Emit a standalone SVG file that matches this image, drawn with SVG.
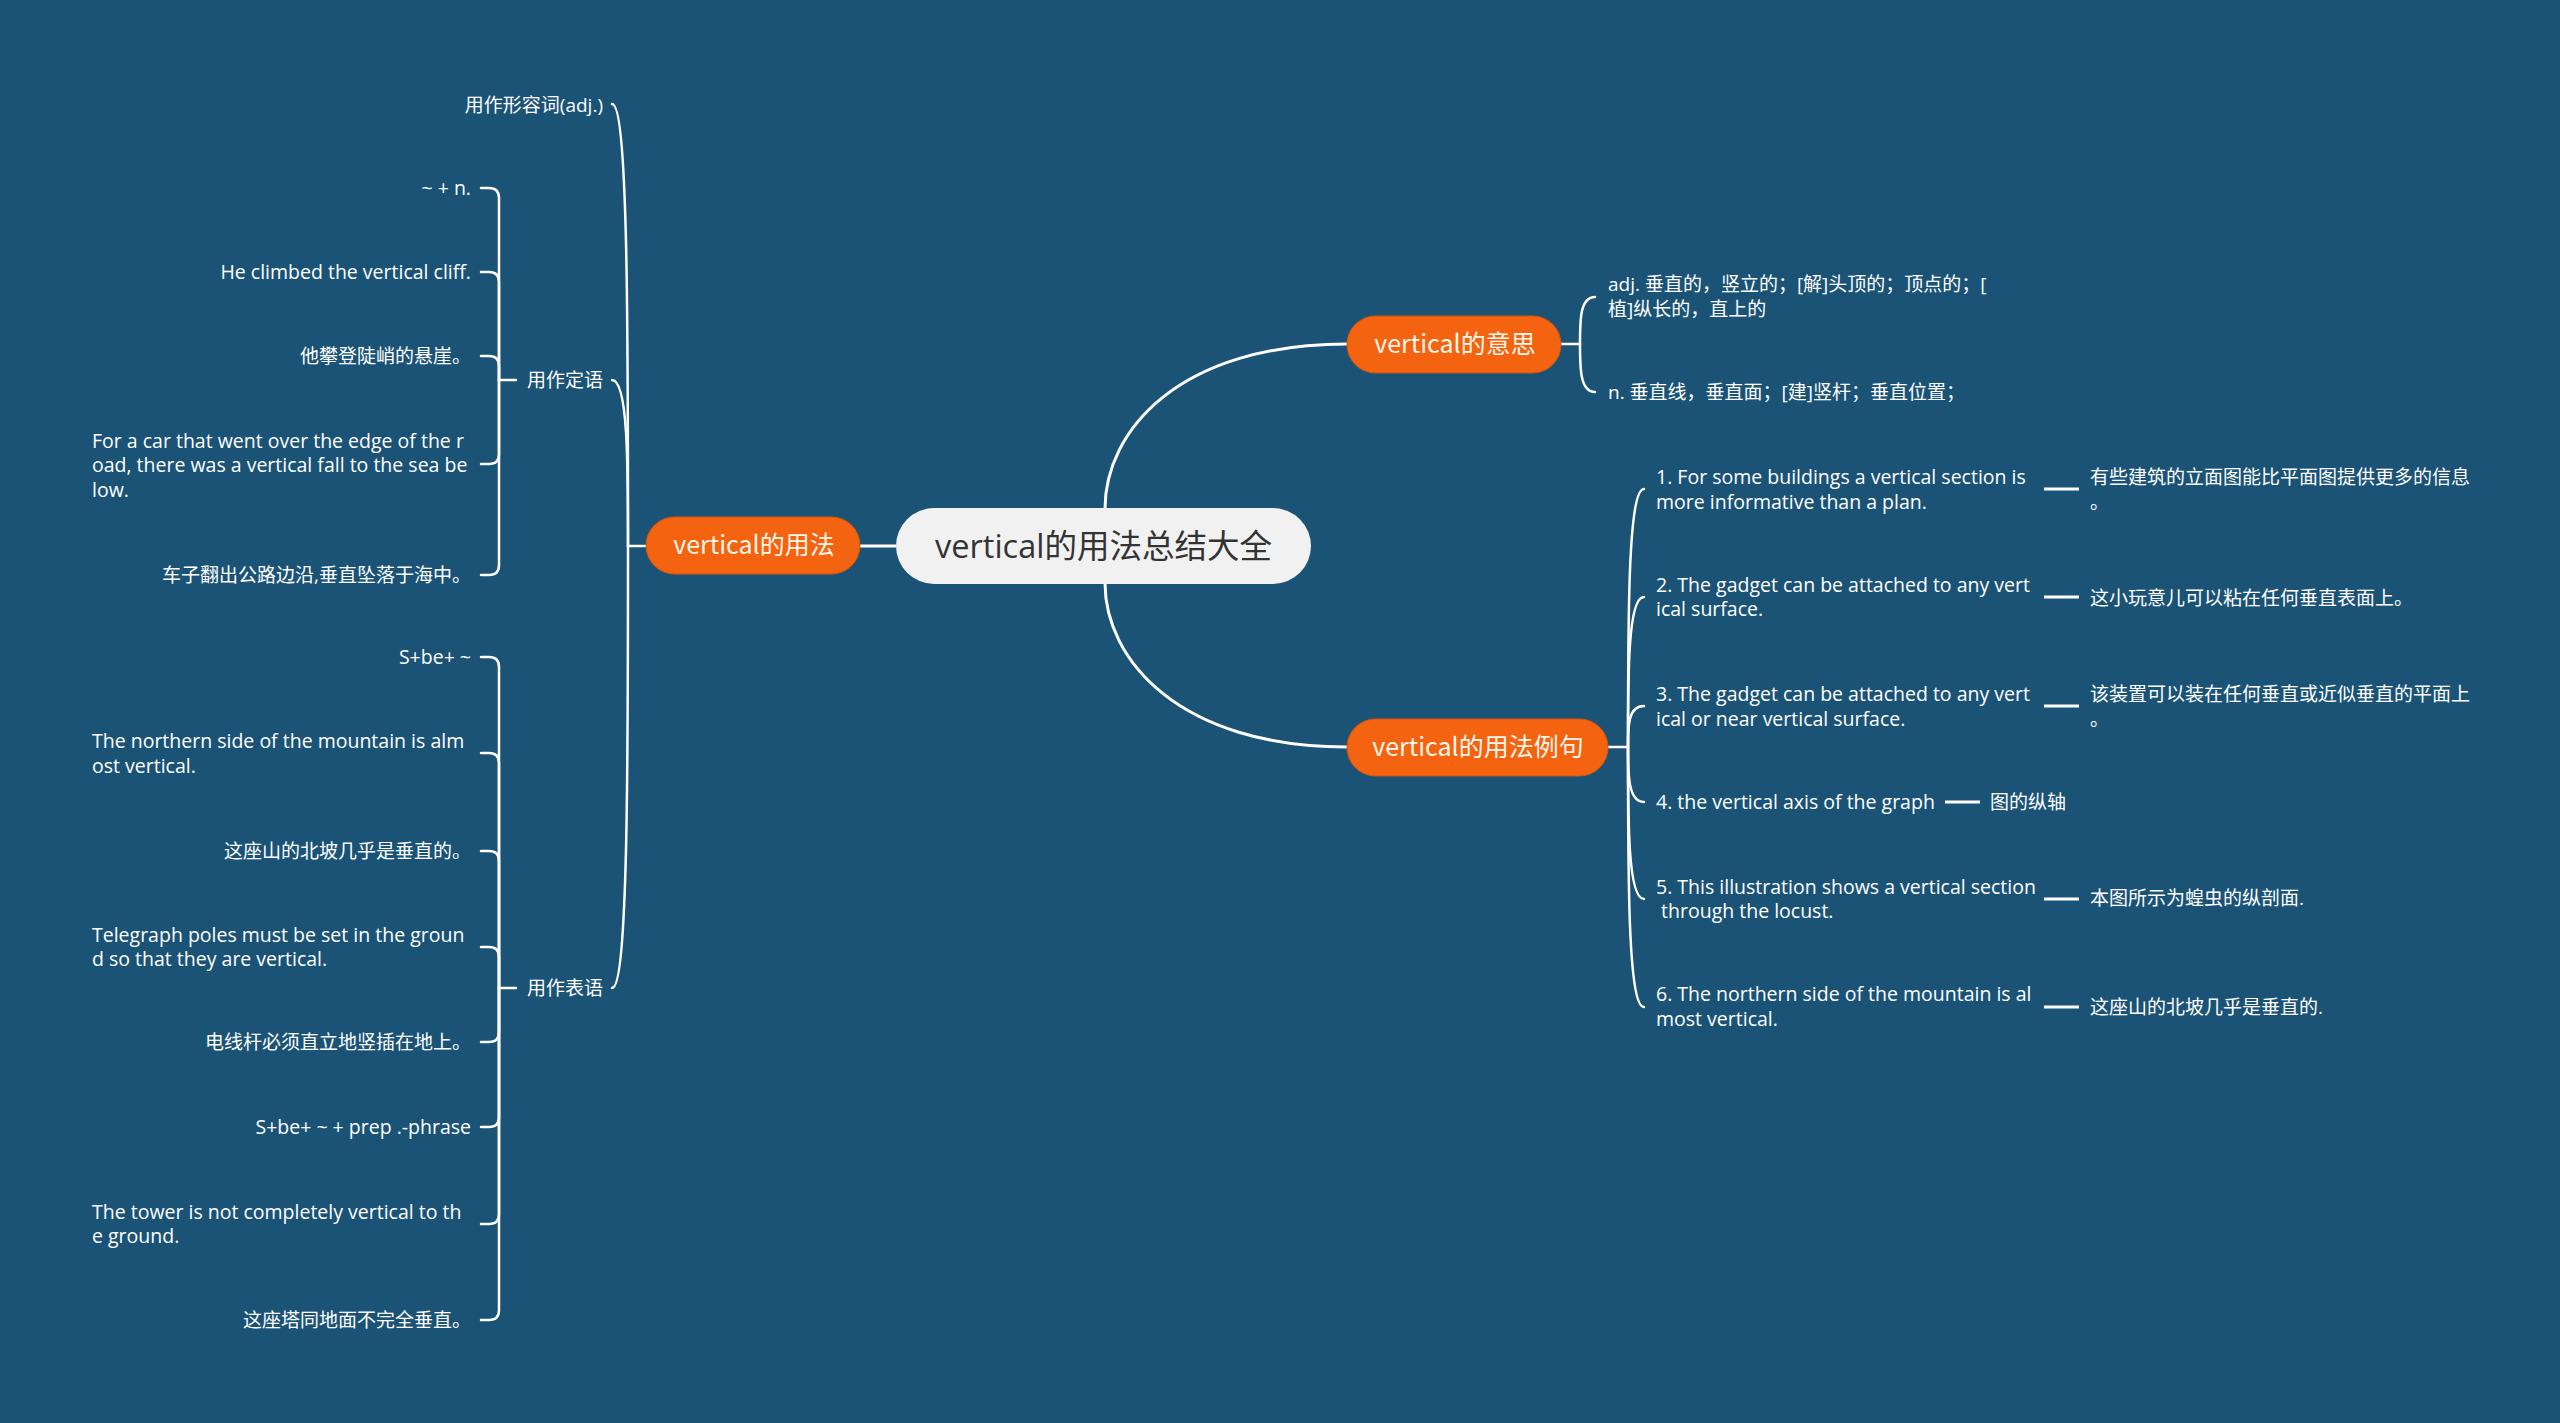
<svg xmlns="http://www.w3.org/2000/svg" width="2560" height="1423" viewBox="0 0 2560 1423">
<style>
.bg{fill:#1a5376}
.ln{fill:none;stroke:#ffffff;stroke-width:2.5;stroke-linecap:round}
.main{fill:none;stroke:#ffffff;stroke-width:3}
.orange{fill:#f4630f;stroke:#d9540a;stroke-width:1}
.root{fill:#f1f1f1}
.rt{font-family:"Open Sans","Noto Sans CJK SC",sans-serif;font-size:32.5px;fill:#333333;text-anchor:middle}
.ot{font-family:"Noto Sans CJK SC",sans-serif;font-size:25px;fill:#fff6ea;text-anchor:middle}
.en{font-family:"Open Sans","Noto Sans CJK SC",sans-serif;font-size:19.5px;fill:#ffffff}
.zh{font-family:"Open Sans","Noto Sans CJK SC",sans-serif;font-size:19px;fill:#ffffff}
.end{text-anchor:end}
</style>
<rect class="bg" x="0" y="0" width="2560" height="1423"/>
<g id="connectors">
  <path class="main" d="M860 546 H896"/>
  <path class="main" d="M1105 509 C1105 430 1180 344 1347 344"/>
  <path class="main" d="M1105 583 C1105 660 1180 747 1347 747"/>
  <path class="ln" d="M646 546 H628"/>
  <path class="ln" d="M628 546 C628 325 628 104 612 104"/>
  <path class="ln" d="M628 546 C628 463 628 380 612 380"/>
  <path class="ln" d="M628 546 C628 767 628 988 612 988"/>
  <path class="ln" d="M516 380 H499"/>
  <path class="ln" d="M499 380 V198 Q499 188 489 188 H481"/>
  <path class="ln" d="M499 380 V282 Q499 272 489 272 H481"/>
  <path class="ln" d="M499 380 V366 Q499 356 489 356 H481"/>
  <path class="ln" d="M499 380 V454 Q499 464 489 464 H481"/>
  <path class="ln" d="M499 380 V565 Q499 575 489 575 H481"/>
  <path class="ln" d="M516 988 H499"/>
  <path class="ln" d="M499 988 V667 Q499 657 489 657 H481"/>
  <path class="ln" d="M499 988 V763 Q499 753 489 753 H481"/>
  <path class="ln" d="M499 988 V861 Q499 851 489 851 H481"/>
  <path class="ln" d="M499 988 V957 Q499 947 489 947 H481"/>
  <path class="ln" d="M499 988 V1032 Q499 1042 489 1042 H481"/>
  <path class="ln" d="M499 988 V1117 Q499 1127 489 1127 H481"/>
  <path class="ln" d="M499 988 V1214 Q499 1224 489 1224 H481"/>
  <path class="ln" d="M499 988 V1310 Q499 1320 489 1320 H481"/>
  <path class="ln" d="M1561 344 H1580"/>
  <path class="ln" d="M1580 344 C1580 320 1580 297 1595 297"/>
  <path class="ln" d="M1580 344 C1580 368 1580 392 1595 392"/>
  <path class="ln" d="M1608 747 H1628"/>
  <path class="ln" d="M1628 747 C1628 618 1628 489 1644 489"/>
  <path class="ln" d="M1628 747 C1628 672 1628 597 1644 597"/>
  <path class="ln" d="M1628 747 C1628 726 1628 706 1644 706"/>
  <path class="ln" d="M1628 747 C1628 774 1628 802 1644 802"/>
  <path class="ln" d="M1628 747 C1628 823 1628 899 1644 899"/>
  <path class="ln" d="M1628 747 C1628 877 1628 1007 1644 1007"/>
  <path class="main" d="M2044 489 H2079"/>
  <path class="main" d="M2044 597 H2079"/>
  <path class="main" d="M2044 706 H2079"/>
  <path class="main" d="M1945 802 H1980"/>
  <path class="main" d="M2044 899 H2079"/>
  <path class="main" d="M2044 1007 H2079"/>
</g>
<g id="root">
  <rect class="root" x="896" y="508" width="415" height="76" rx="38"/>
  <text class="rt" x="1103.5" y="557.5">vertical的用法总结大全</text>
</g>
<g id="n-usage">
  <rect class="orange" x="646" y="517" width="214" height="57" rx="28.5"/>
  <text class="ot" x="754" y="554">vertical的用法</text>
</g>
<g id="n-meaning">
  <rect class="orange" x="1347" y="316" width="214" height="57" rx="28.5"/>
  <text class="ot" x="1455" y="353">vertical的意思</text>
</g>
<g id="n-examples">
  <rect class="orange" x="1347" y="719" width="261" height="57" rx="28.5"/>
  <text class="ot" x="1478" y="756">vertical的用法例句</text>
</g>
<g id="n-adj"><text class="zh end" x="603" y="111.5">用作形容词(adj.)</text></g>
<g id="n-attr"><text class="zh end" x="603" y="387">用作定语</text></g>
<g id="n-pred"><text class="zh end" x="603" y="995">用作表语</text></g>
<g id="a1"><text class="en end" x="471" y="195">~ + n.</text></g>
<g id="a2"><text class="en end" x="471" y="279">He climbed the vertical cliff.</text></g>
<g id="a3"><text class="zh end" x="471" y="363">他攀登陡峭的悬崖。</text></g>
<g id="a4"><text class="en" x="92" y="447.5"><tspan x="92">For a car that went over the edge of the r</tspan><tspan x="92" dy="24.5">oad, there was a vertical fall to the sea be</tspan><tspan x="92" dy="24.5">low.</tspan></text></g>
<g id="a5"><text class="zh end" x="471" y="582">车子翻出公路边沿,垂直坠落于海中。</text></g>
<g id="p1"><text class="en end" x="471" y="664">S+be+ ~</text></g>
<g id="p2"><text class="en" x="92" y="748"><tspan x="92">The northern side of the mountain is alm</tspan><tspan x="92" dy="25">ost vertical.</tspan></text></g>
<g id="p3"><text class="zh end" x="471" y="858">这座山的北坡几乎是垂直的。</text></g>
<g id="p4"><text class="en" x="92" y="941.5"><tspan x="92">Telegraph poles must be set in the groun</tspan><tspan x="92" dy="24.5">d so that they are vertical.</tspan></text></g>
<g id="p5"><text class="zh end" x="471" y="1049">电线杆必须直立地竖插在地上。</text></g>
<g id="p6"><text class="en end" x="471" y="1134">S+be+ ~ + prep .-phrase</text></g>
<g id="p7"><text class="en" x="92" y="1218.5"><tspan x="92">The tower is not completely vertical to th</tspan><tspan x="92" dy="24.5">e ground.</tspan></text></g>
<g id="p8"><text class="zh end" x="471" y="1327">这座塔同地面不完全垂直。</text></g>
<g id="m1"><text class="zh" x="1608" y="291"><tspan x="1608">adj. 垂直的，竖立的；[解]头顶的；顶点的；[</tspan><tspan x="1608" dy="25">植]纵长的，直上的</tspan></text></g>
<g id="m2"><text class="zh" x="1608" y="399">n. 垂直线，垂直面；[建]竖杆；垂直位置；</text></g>
<g id="e1"><text class="en" x="1656" y="484"><tspan x="1656">1. For some buildings a vertical section is</tspan><tspan x="1656" dy="24.5">more informative than a plan.</tspan></text></g>
<g id="e1t"><text class="zh" x="2090" y="484"><tspan x="2090">有些建筑的立面图能比平面图提供更多的信息</tspan><tspan x="2090" dy="25">。</tspan></text></g>
<g id="e2"><text class="en" x="1656" y="591.5"><tspan x="1656">2. The gadget can be attached to any vert</tspan><tspan x="1656" dy="24.5">ical surface.</tspan></text></g>
<g id="e2t"><text class="zh" x="2090" y="604.5">这小玩意儿可以粘在任何垂直表面上。</text></g>
<g id="e3"><text class="en" x="1656" y="701"><tspan x="1656">3. The gadget can be attached to any vert</tspan><tspan x="1656" dy="24.5">ical or near vertical surface.</tspan></text></g>
<g id="e3t"><text class="zh" x="2090" y="701"><tspan x="2090">该装置可以装在任何垂直或近似垂直的平面上</tspan><tspan x="2090" dy="25">。</tspan></text></g>
<g id="e4"><text class="en" x="1656" y="809">4. the vertical axis of the graph</text></g>
<g id="e4t"><text class="zh" x="1990" y="809">图的纵轴</text></g>
<g id="e5"><text class="en" x="1656" y="893.5" xml:space="preserve"><tspan x="1656">5. This illustration shows a vertical section</tspan><tspan x="1656" dy="24.5"> through the locust.</tspan></text></g>
<g id="e5t"><text class="zh" x="2090" y="905">本图所示为蝗虫的纵剖面.</text></g>
<g id="e6"><text class="en" x="1656" y="1001"><tspan x="1656">6. The northern side of the mountain is al</tspan><tspan x="1656" dy="24.5">most vertical.</tspan></text></g>
<g id="e6t"><text class="zh" x="2090" y="1014">这座山的北坡几乎是垂直的.</text></g>
</svg>
